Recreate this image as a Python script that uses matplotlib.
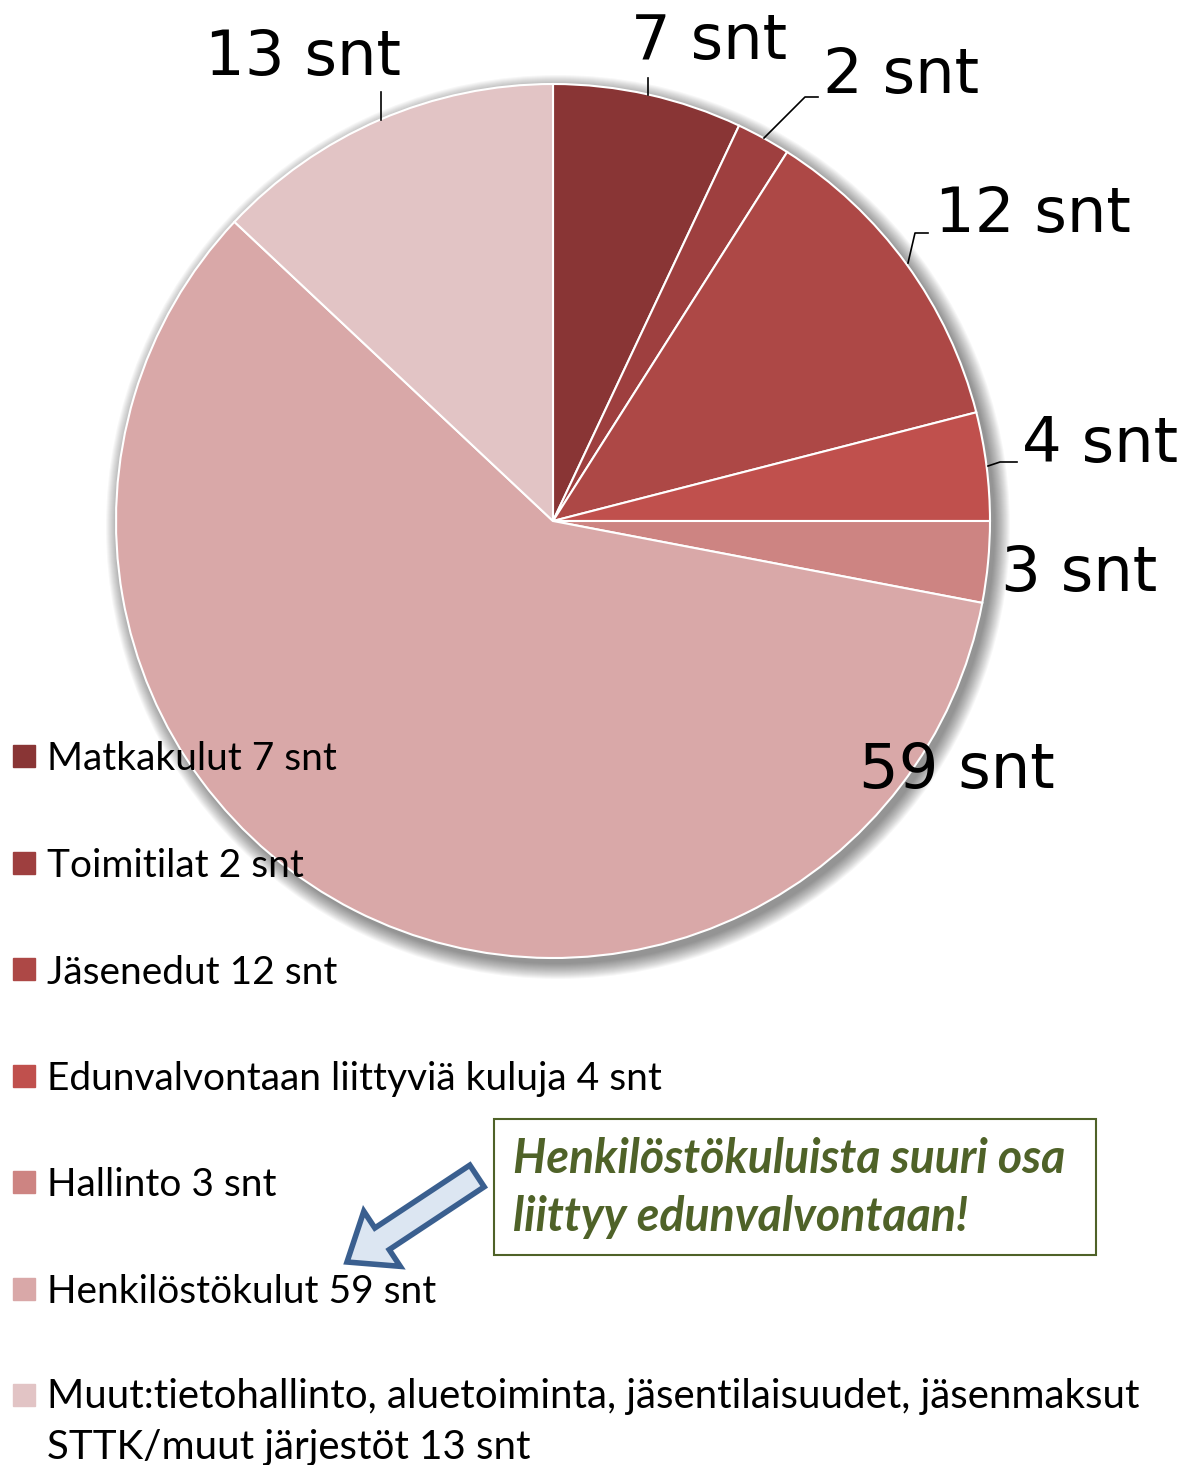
import matplotlib
matplotlib.use("Agg")
import matplotlib.pyplot as plt
import matplotlib.patches as mpatches

W, H = 1198, 1465

# data
categories = ["Matkakulut", "Toimitilat", "Jäsenedut", "Edunvalvontaan liittyviä kuluja",
              "Hallinto", "Henkilöstökulut",
              "Muut:tietohallinto, aluetoiminta, jäsentilaisuudet, jäsenmaksut\nSTTK/muut järjestöt"]
values = [7, 2, 12, 4, 3, 59, 13]
colors = ["#893535", "#9E3F3F", "#AD4846", "#C0504D", "#CD8482", "#D9A8A8", "#E2C4C5"]
unit = "snt"
note = "Henkilöstökuluista suuri osa\nliittyy edunvalvontaan!"

fig = plt.figure(figsize=(W / 100, H / 100), dpi=100)
ax = fig.add_axes([0, 0, 1, 1])

cx, cy, r = 553, H - 521, 437

# soft shadow behind the pie
for k in range(16):
    ax.add_patch(mpatches.Circle((cx + 5, cy - 6), r + 15 - k, color="black",
                                 alpha=0.03, lw=0, zorder=0))

ax.pie(values, colors=colors, startangle=90, counterclock=False, center=(cx, cy),
       radius=r, frame=True,
       wedgeprops=dict(edgecolor="white", linewidth=1.5, zorder=1))

# data labels (img coords) and leader lines
label_pos = [(709, 42), (901, 76), (1033, 215), (1100, 445), (1079, 574), (957, 771), (303, 58)]
for v, (x, y) in zip(values, label_pos):
    ax.text(x, H - y, f"{v} {unit}", ha="center", va="center", fontsize=45,
            family="DejaVu Sans", zorder=5)

leaders = [
    [(648, 95), (648, 78)],
    [(764, 138), (805, 97), (818, 97)],
    [(908, 263), (915, 233), (928, 233)],
    [(988, 466), (1000, 462), (1017, 462)],
    [(381, 120), (381, 92)],
]
for pts in leaders:
    ax.plot([p[0] for p in pts], [H - p[1] for p in pts], color="black", lw=1.2, zorder=4)

# legend
y0, step = 756, 106.5
for i, (cat, v, c) in enumerate(zip(categories, values, colors)):
    y = y0 + i * step
    ax.add_patch(mpatches.Rectangle((13, H - y - 11), 22, 22, color=c, zorder=6))
    label = f"{cat} {v} {unit}"
    if "\n" in cat:
        ax.text(47, H - y + 17, label, ha="left", va="top", fontsize=29,
                family="Lato", linespacing=1.45, zorder=6)
    else:
        ax.text(47, H - y, label, ha="left", va="center_baseline", fontsize=28,
                family="Lato", zorder=6)

# note box and arrow
ax.add_patch(mpatches.Rectangle((494, H - 1255), 602, 136, fill=False,
                                ec="#4F6228", lw=1.5, zorder=6))
ax.text(513, H - 1188, note, ha="left", va="center", fontsize=33.5, family="Lato",
        weight="bold", style="italic", color="#4F6228", linespacing=1.4, zorder=6)

ax.add_patch(mpatches.FancyArrow(477, H - 1176, -130, -86, width=26, head_width=66,
                                 head_length=42, length_includes_head=True,
                                 fc="#DCE6F2", ec="#3A5F8F", lw=4, zorder=6))

ax.set_xlim(0, W)
ax.set_ylim(0, H)
ax.set_aspect("auto")
ax.axis("off")

fig.savefig("out.png", dpi=100)
